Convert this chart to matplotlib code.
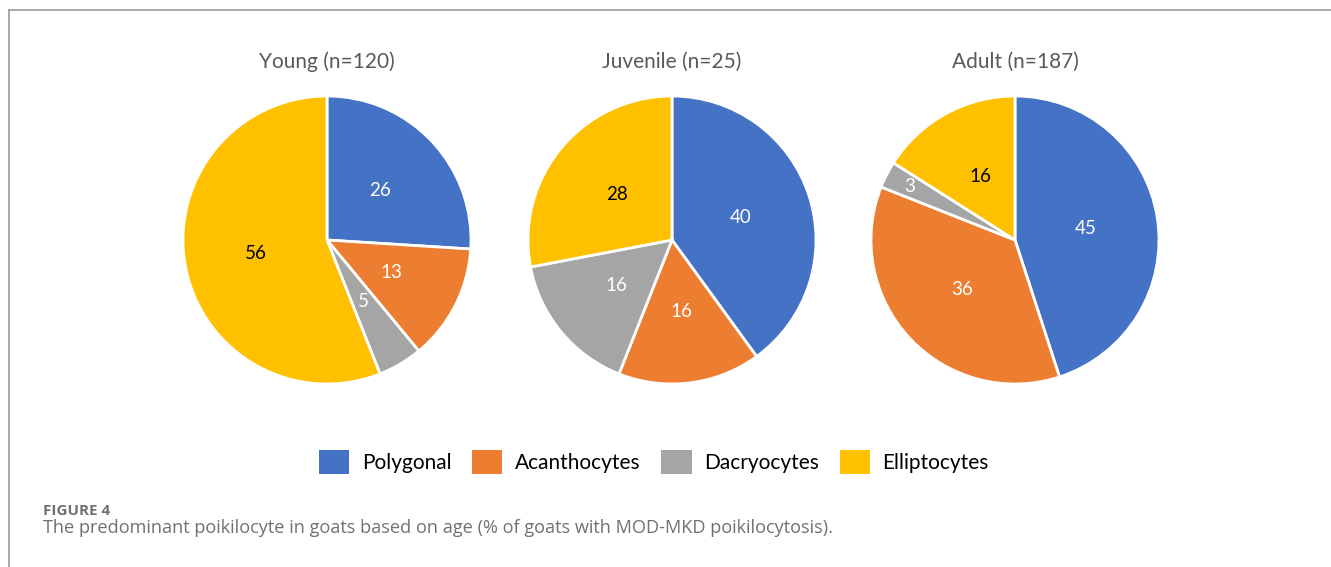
import matplotlib.pyplot as plt
from matplotlib.patches import Patch
from matplotlib.lines import Line2D
import numpy as np

# Poikilocyte share (%) per age group
categories = ["Polygonal", "Acanthocytes", "Dacryocytes", "Elliptocytes"]
groups = ["Young (n=120)", "Juvenile (n=25)", "Adult (n=187)"]
young = [26, 13, 5, 56]
juvenile = [40, 16, 16, 28]
adult = [45, 36, 3, 16]
values = [young, juvenile, adult]

colors = ["#4472C4", "#ED7D31", "#A5A5A5", "#FFC000"]
label_colors = ["white", "white", "white", "black"]

W, H = 1331, 567
fig = plt.figure(figsize=(W / 100, H / 100), dpi=100)

centers_x = [327, 672, 1015]
center_y = 240
r = 144

for gname, vals, cx in zip(groups, values, centers_x):
    ax = fig.add_axes([(cx - r) / W, (H - center_y - r) / H, 2 * r / W, 2 * r / H])
    wedges, _ = ax.pie(vals, colors=colors, startangle=90, counterclock=False,
                       wedgeprops=dict(edgecolor="white", linewidth=2))
    ax.set_xlim(-1, 1)
    ax.set_ylim(-1, 1)
    for w in wedges:
        w.set_clip_on(False)
    # value labels at the middle of each slice; thin slices get pushed outward
    for w, v, tc in zip(wedges, vals, label_colors):
        mid = np.deg2rad((w.theta1 + w.theta2) / 2)
        d = 0.82 if v < 4 else 0.5
        ax.text(d * np.cos(mid), d * np.sin(mid), str(v), ha="center", va="center",
                fontsize=13.5, color=tc, family="Lato")
    ax.text(0, 1.24, gname, ha="center", va="center", fontsize=15,
            color="#595959", family="Lato")

handles = [Patch(facecolor=c, edgecolor="none") for c in colors]
fig.legend(handles, categories, loc="center", bbox_to_anchor=(654 / W, (H - 462) / H),
           ncol=4, frameon=False, prop=dict(family="Lato", size=15),
           handlelength=1.45, handleheight=1.45, handletextpad=0.6, columnspacing=1.0)

# frame lines along the top and left
fig.add_artist(Line2D([9 / W, 1], [(H - 10) / H] * 2, color="#999999", lw=1.2))
fig.add_artist(Line2D([9 / W] * 2, [0, (H - 10) / H], color="#999999", lw=1.2))

fig.text(43 / W, (H - 511) / H, "FIGURE 4", fontsize=11, fontweight="bold",
         color="#707070", family="Open Sans", va="center")
fig.text(43 / W, (H - 533) / H,
         "The predominant poikilocyte in goats based on age (% of goats with MOD-MKD poikilocytosis).",
         fontsize=13.1, color="#707070", family="Open Sans", va="baseline")

fig.savefig("out.png", dpi=100)
